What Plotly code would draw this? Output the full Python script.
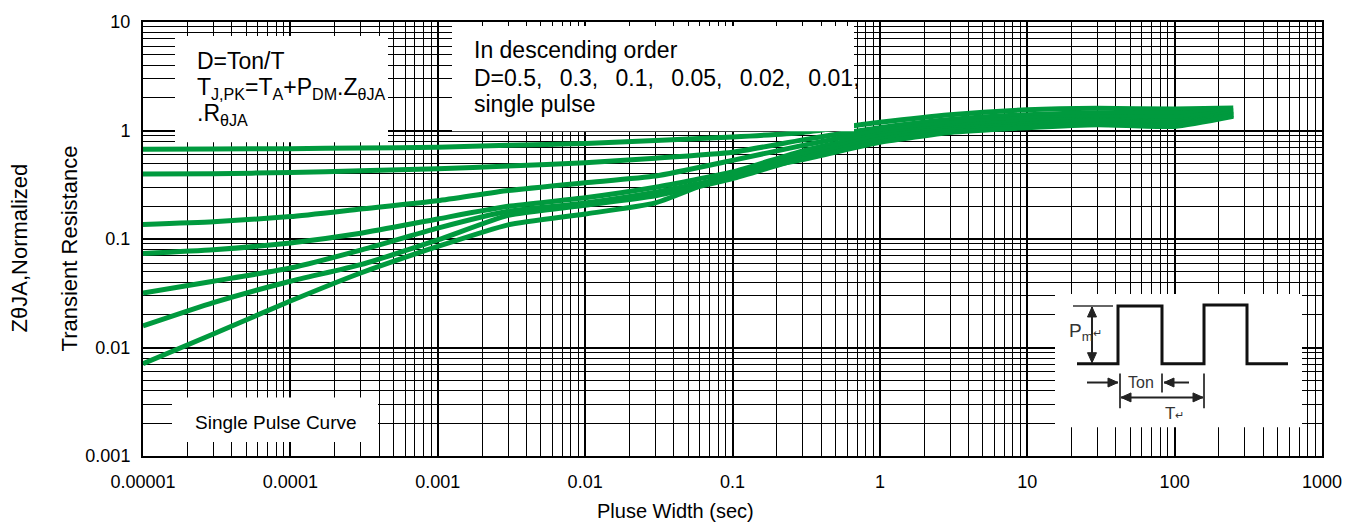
import plotly.graph_objects as go

# ---------------- data ----------------
pulse_width = [1e-5, 3e-5, 1e-4, 3e-4, 1e-3, 3e-3, 1e-2, 3e-2, 0.1, 0.3, 1, 3, 10, 30, 100, 250]

d_050 = [0.673, 0.675, 0.68, 0.69, 0.70, 0.73, 0.76, 0.81, 0.87, 0.96, 1.19, 1.40, 1.55, 1.60, 1.58, 1.61]
d_030 = [0.398, 0.40, 0.41, 0.425, 0.445, 0.47, 0.505, 0.555, 0.63, 0.82, 1.06, 1.26, 1.40, 1.46, 1.44, 1.53]
d_010 = [0.136, 0.144, 0.161, 0.189, 0.225, 0.28, 0.33, 0.38, 0.53, 0.73, 0.99, 1.17, 1.29, 1.34, 1.33, 1.50]
d_005 = [0.0736, 0.0796, 0.092, 0.113, 0.153, 0.20, 0.24, 0.30, 0.415, 0.65, 0.92, 1.09, 1.21, 1.26, 1.22, 1.46]
d_002 = [0.0317, 0.0408, 0.054, 0.079, 0.126, 0.18, 0.215, 0.27, 0.38, 0.60, 0.88, 1.04, 1.15, 1.23, 1.18, 1.40]
d_001 = [0.0158, 0.0259, 0.0408, 0.058, 0.098, 0.165, 0.205, 0.25, 0.36, 0.56, 0.83, 1.00, 1.10, 1.15, 1.13, 1.38]
single = [0.0071, 0.0133, 0.0268, 0.0486, 0.0853, 0.135, 0.17, 0.215, 0.40, 0.54, 0.78, 0.96, 1.06, 1.13, 1.09, 1.35]

series_names = ["D=0.5", "D=0.3", "D=0.1", "D=0.05", "D=0.02", "D=0.01", "Single pulse"]
series_values = [d_050, d_030, d_010, d_005, d_002, d_001, single]

x_tickvals = [1e-5, 1e-4, 1e-3, 1e-2, 1e-1, 1, 10, 100, 1000]
x_ticktext = ["0.00001", "0.0001", "0.001", "0.01", "0.1", "1", "10", "100", "1000"]
y_tickvals = [0.001, 0.01, 0.1, 1, 10]
y_ticktext = ["0.001", "0.01", "0.1", "1", "10"]

# ---------------- layout geometry ----------------
W, H = 1371, 523
L, R, T, B = 143, 1322, 19, 456
PW, PH = R - L, B - T


def px(xp):
    return (xp - L) / PW


def py(yp):
    return (B - yp) / PH


FONT = "Liberation Sans, Arial, sans-serif"
GREEN = "#009A3E"

fig = go.Figure()
for name, vals in zip(series_names, series_values):
    fig.add_trace(go.Scatter(
        x=pulse_width, y=vals, mode="lines", name=name,
        line=dict(color=GREEN, width=5, shape="spline", smoothing=0.5),
        showlegend=False,
    ))

axis_common = dict(
    type="log", showline=True, linecolor="black", linewidth=2, mirror=True,
    showgrid=True, gridcolor="black", gridwidth=1.5, ticks="", zeroline=False,
    tickfont=dict(family=FONT, size=18, color="black"),
    minor=dict(showgrid=True, gridcolor="black", gridwidth=1.2, dtick="D1", ticks=""),
)

fig.update_xaxes(range=[-5, 3], tickvals=x_tickvals, ticktext=x_ticktext,
                 ticklabelstandoff=8, **axis_common)
fig.update_yaxes(range=[-3, 1], tickvals=y_tickvals, ticktext=y_ticktext,
                 ticklabelstandoff=7, **axis_common)

shapes = []
annotations = []


def white_box(x0, y0, x1, y1):
    shapes.append(dict(type="rect", xref="paper", yref="paper",
                       x0=px(x0), x1=px(x1), y0=py(y1), y1=py(y0),
                       fillcolor="white", line=dict(width=0), layer="above"))


def text(xp, yp, s, size, anchor="left", color="black", angle=0):
    annotations.append(dict(x=px(xp), y=py(yp), xref="paper", yref="paper",
                            text=s, showarrow=False, xanchor=anchor, yanchor="middle",
                            textangle=angle,
                            font=dict(family=FONT, size=size, color=color)))


def seg(x0, y0, x1, y1, color="#444444", width=2):
    shapes.append(dict(type="line", xref="paper", yref="paper",
                       x0=px(x0), y0=py(y0), x1=px(x1), y1=py(y1),
                       line=dict(color=color, width=width), layer="above"))


def head(hx, hy, dx, dy, color="#222222"):
    # filled triangle pointing in direction (dx, dy) with tip at (hx, hy)
    ln, hw = 10, 4.5
    bx, by = hx - dx * ln, hy - dy * ln
    nx, ny = -dy, dx
    pts = [(hx, hy), (bx + nx * hw, by + ny * hw), (bx - nx * hw, by - ny * hw)]
    p = "M " + " L ".join(f"{px(a):.5f},{py(b):.5f}" for a, b in pts) + " Z"
    shapes.append(dict(type="path", xref="paper", yref="paper", path=p,
                       fillcolor=color, line=dict(color=color, width=1), layer="above"))


def arrow(tx, ty, hx, hy, both=False):
    seg(tx, ty, hx, hy, color="#222222", width=2)
    d = ((hx - tx) ** 2 + (hy - ty) ** 2) ** 0.5
    ux, uy = (hx - tx) / d, (hy - ty) / d
    head(hx, hy, ux, uy)
    if both:
        head(tx, ty, -ux, -uy)


# info boxes
white_box(175, 33, 388, 140)
text(195, 58, "D=Ton/T", 23)
text(195, 86, "T<sub>J,PK</sub>=T<sub>A</sub>+P<sub>DM</sub>.Z<sub>θJA</sub>", 23)
text(195, 112, ".R<sub>θJA</sub>", 23)

white_box(452, 23, 854, 129)
GAP = ",\u00a0\u2009 "
text(472, 47, "In descending order", 23)
text(472, 75, "D=0.5" + GAP + "0.3" + GAP + "0.1" + GAP + "0.05" + GAP + "0.02" + GAP + "0.01,", 23)
text(472, 102, "single pulse", 23)

white_box(172, 397, 378, 442)
text(276, 422, "Single Pulse Curve", 19, anchor="center")

# axis titles
text(19, 247, "ZθJA,Normalized", 22, anchor="center", angle=-90)
text(69, 247, "Transient Resistance", 22, anchor="center", angle=-90)
text(675, 511, "Pluse Width (sec)", 20, anchor="center")

# pulse diagram inset
white_box(1055, 293, 1302, 427)
wave = [(1077, 363), (1118, 363), (1118, 305), (1162, 305), (1162, 363),
        (1204, 363), (1204, 304), (1247, 304), (1247, 363), (1288, 363)]
path = "M " + " L ".join(f"{px(a):.5f},{py(b):.5f}" for a, b in wave)
shapes.append(dict(type="path", xref="paper", yref="paper", path=path,
                   line=dict(color="#111111", width=3), layer="above"))

seg(1073, 305, 1113, 305, color="#666666")
arrow(1092, 306, 1092, 362, both=True)
text(1067, 331, "P<sub>m</sub><span style='font-size:11px'>↵</span>", 19, color="#333333")
seg(1120, 373, 1120, 408)
seg(1162, 373, 1162, 392)
seg(1204, 373, 1204, 408)
arrow(1087, 382, 1118, 382)
arrow(1189, 382, 1164, 382)
text(1141, 382, "Ton", 16, anchor="center", color="#333333")
arrow(1121, 397, 1203, 397, both=True)
text(1174, 413, "T<span style='font-size:11px'>↵</span>", 17, anchor="center", color="#333333")

fig.update_layout(
    width=W, height=H,
    margin=dict(l=L, r=W - R, t=T, b=H - B, pad=0),
    paper_bgcolor="white", plot_bgcolor="white",
    shapes=shapes, annotations=annotations,
    font=dict(family=FONT, color="black"),
)

fig.write_html("out.html")
